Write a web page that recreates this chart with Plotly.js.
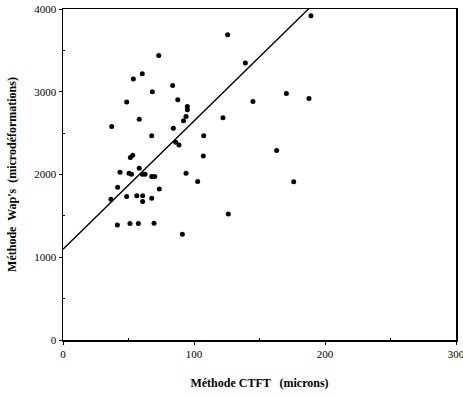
<!DOCTYPE html>
<html>
<head>
<meta charset="utf-8">
<script src="https://cdn.plot.ly/plotly-3.0.1.min.js"></script>
<style>html,body{margin:0;padding:0;background:#fff;}#chart{width:463px;height:398px;}</style>
</head>
<body>
<div id="chart"></div>
<script>
// CTFT method (microns)
const ctft = [189.3,125.7,73.1,53.7,60.5,139.2,83.7,68.2,87.6,170.5,187.8,145.0,48.6,94.9,94.9,93.9,92.0,122.1,58.2,37.2,84.2,67.7,107.4,86.0,88.5,107.1,163.1,176.1,93.9,102.8,51.4,53.2,43.5,50.4,52.3,58.2,60.5,62.6,67.7,70.0,41.7,73.5,36.6,48.6,56.3,60.8,60.8,67.7,41.5,51.1,57.5,69.5,91.1,126.2];
// Wap's method (microdeformations)
const waps = [3919,3689,3439,3153,3217,3347,3076,3000,2903,2979,2918,2882,2875,2822,2782,2701,2649,2685,2669,2580,2560,2467,2467,2391,2355,2225,2290,1911,2016,1915,2205,2234,2028,2016,2002,2077,2004,2004,1975,1975,1847,1826,1702,1733,1742,1742,1673,1714,1391,1407,1407,1411,1278,1524];
// regression line parameters
const intercept = 1096;
const slope = 15.5;
const lineX = [0, 300];
const lineY = lineX.map(v => intercept + slope * v);

const serif = 'Liberation Serif, Times New Roman, serif';

Plotly.newPlot('chart', [
  {x: ctft, y: waps, mode: 'markers', type: 'scatter',
   marker: {color: '#000', size: 5}, hoverinfo: 'none', cliponaxis: true},
  {x: lineX, y: lineY, mode: 'lines', type: 'scatter',
   line: {color: '#000', width: 1.4}, hoverinfo: 'none'}
], {
  width: 463, height: 398,
  margin: {l: 63, r: 7, t: 9, b: 58},
  paper_bgcolor: '#fff', plot_bgcolor: '#fff',
  showlegend: false,
  font: {family: serif, color: '#000', size: 11},
  xaxis: {
    range: [0, 300], tickvals: [0, 100, 200, 300],
    showgrid: false, zeroline: false,
    showline: true, mirror: true, linecolor: '#000', linewidth: 1.5,
    ticks: 'outside', ticklen: 3, tickcolor: '#000', tickwidth: 1,
    ticklabeloverflow: 'allow',
    minor: {tickvals: [50, 150, 250], ticks: 'inside', ticklen: 2, tickcolor: '#000'},
    tickfont: {family: serif, size: 11},
    title: {text: 'Méthode CTFT   (microns)', standoff: 20,
            font: {family: serif, size: 12, weight: 'bold'}}
  },
  yaxis: {
    range: [0, 4000], tickvals: [0, 1000, 2000, 3000, 4000],
    showgrid: false, zeroline: false,
    showline: true, mirror: true, linecolor: '#000', linewidth: 1.5,
    ticks: 'outside', ticklen: 3, tickcolor: '#000', tickwidth: 1,
    minor: {tickvals: [500, 1500, 2500, 3500], ticks: 'inside', ticklen: 2, tickcolor: '#000'},
    tickfont: {family: serif, size: 11},
    title: {text: "Méthode  Wap's  (microdéformations)", standoff: 15,
            font: {family: serif, size: 12, weight: 'bold'}}
  }
}, {staticPlot: true});
</script>
</body>
</html>
